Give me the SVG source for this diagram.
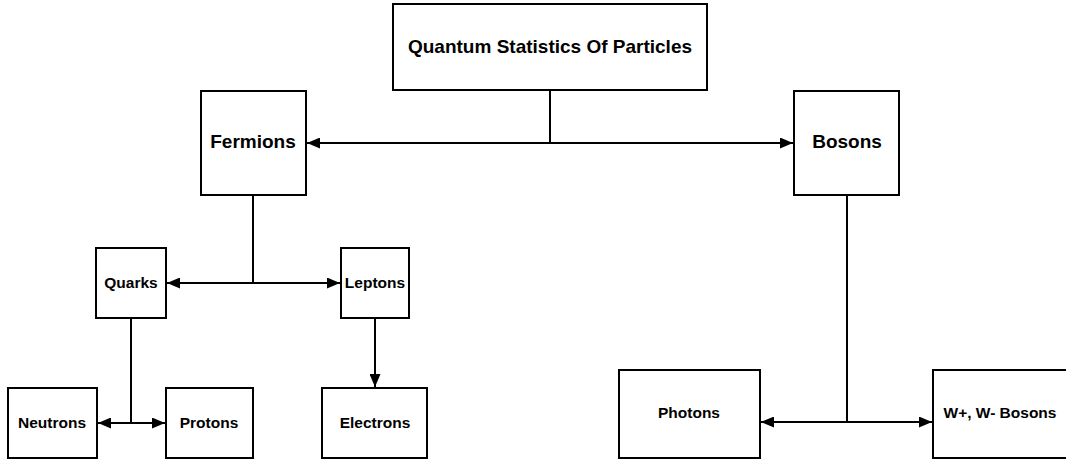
<svg xmlns="http://www.w3.org/2000/svg" width="1066" height="461" viewBox="0 0 1066 461">
<style>
.box{fill:#fff;stroke:#000;stroke-width:2}
.t{font-family:"Liberation Sans",Arial,sans-serif;font-weight:bold;fill:#000;text-anchor:middle}
.lg{font-size:19px}
.sm{font-size:15.5px}
.c{fill:none;stroke:#000;stroke-width:2}
</style>
<defs>
<marker id="ah" viewBox="0 0 13 11" refX="13" refY="5.5" markerWidth="13" markerHeight="11" markerUnits="userSpaceOnUse" orient="auto">
<path d="M0,0 L13,5.5 L0,11 Z" fill="#000"/>
</marker>
</defs>
<rect width="1066" height="461" fill="#fff"/>
<g id="connectors">
<path class="c" d="M550,90 V143"/>
<path class="c" d="M550,143 H307" marker-end="url(#ah)"/>
<path class="c" d="M550,143 H793" marker-end="url(#ah)"/>
<path class="c" d="M253,195 V283"/>
<path class="c" d="M253,283 H167" marker-end="url(#ah)"/>
<path class="c" d="M253,283 H340" marker-end="url(#ah)"/>
<path class="c" d="M131,318 V423"/>
<path class="c" d="M131,423 H98" marker-end="url(#ah)"/>
<path class="c" d="M131,423 H165" marker-end="url(#ah)"/>
<path class="c" d="M375,318 V387" marker-end="url(#ah)"/>
<path class="c" d="M847,195 V422"/>
<path class="c" d="M847,422 H761" marker-end="url(#ah)"/>
<path class="c" d="M847,422 H932" marker-end="url(#ah)"/>
</g>
<g id="quantum"><rect class="box" x="393" y="4" width="314" height="86"/><text class="t lg" x="550" y="53">Quantum Statistics Of Particles</text></g>
<g id="fermions"><rect class="box" x="201" y="91" width="105" height="104"/><text class="t lg" x="253" y="148">Fermions</text></g>
<g id="bosons"><rect class="box" x="794" y="91" width="105" height="104"/><text class="t lg" x="847" y="148">Bosons</text></g>
<g id="quarks"><rect class="box" x="96" y="248" width="70" height="70"/><text class="t sm" x="131" y="288">Quarks</text></g>
<g id="leptons"><rect class="box" x="341" y="248" width="68" height="70"/><text class="t sm" x="375" y="288">Leptons</text></g>
<g id="neutrons"><rect class="box" x="8" y="388" width="89" height="70"/><text class="t sm" x="52" y="428">Neutrons</text></g>
<g id="protons"><rect class="box" x="166" y="388" width="87" height="70"/><text class="t sm" x="209" y="428">Protons</text></g>
<g id="electrons"><rect class="box" x="322" y="388" width="105" height="70"/><text class="t sm" x="375" y="428">Electrons</text></g>
<g id="photons"><rect class="box" x="619" y="370" width="141" height="88"/><text class="t sm" x="689" y="418">Photons</text></g>
<g id="wbosons"><rect class="box" x="933" y="370" width="140" height="88"/><text class="t sm" x="1000" y="418">W+, W- Bosons</text></g>
</svg>
